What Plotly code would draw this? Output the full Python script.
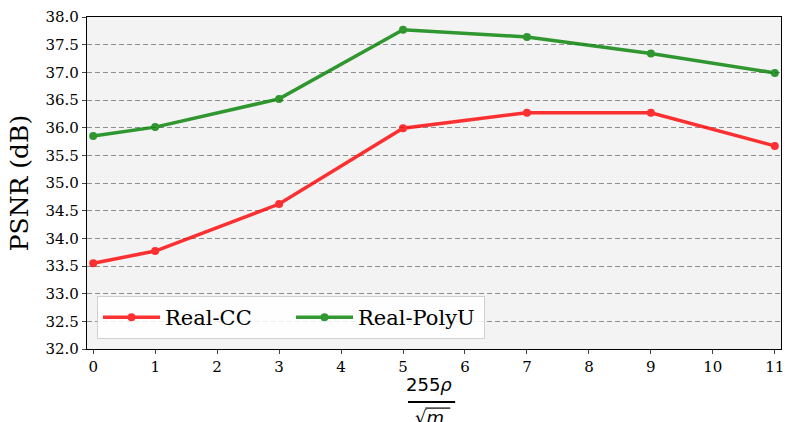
import plotly.graph_objects as go

x_vals = [0, 1, 3, 5, 7, 9, 11]
real_cc = [33.55, 33.77, 34.62, 35.99, 36.27, 36.27, 35.67]
real_polyu = [35.85, 36.01, 36.52, 37.77, 37.64, 37.34, 36.99]
x_ticks = list(range(0, 12))
y_ticks = [32.0 + 0.5 * i for i in range(13)]

fig = go.Figure()
fig.add_trace(go.Scatter(x=x_vals, y=real_cc, mode="lines+markers", name="Real-CC",
                         line=dict(color="rgb(255,0,0)", width=3.5),
                         marker=dict(size=8, color="rgb(255,0,0)"), opacity=0.8))
fig.add_trace(go.Scatter(x=x_vals, y=real_polyu, mode="lines+markers", name="Real-PolyU",
                         line=dict(color="rgb(0,128,0)", width=3.5),
                         marker=dict(size=8, color="rgb(0,128,0)"), opacity=0.8))

serif = "DejaVu Serif"
fig.update_layout(
    width=785, height=422,
    margin=dict(l=87, r=4, t=17, b=73, autoexpand=False),
    paper_bgcolor="white", plot_bgcolor="#f3f3f3",
    font=dict(family=serif, size=15, color="black"),
    showlegend=True,
    legend=dict(orientation="h", x=0.0144, y=0.03, xanchor="left", yanchor="bottom",
                bgcolor="rgba(255,255,255,0.85)", bordercolor="#d0d0d0", borderwidth=1,
                font=dict(family=serif, size=21), itemwidth=57,
                entrywidthmode="pixels", entrywidth=121),
    xaxis=dict(range=[-0.1, 11.1], tickvals=x_ticks, ticks="outside", ticklen=4,
               showgrid=False, zeroline=False, showline=True, linecolor="black", linewidth=1.2,
               mirror=True, tickfont=dict(family=serif, size=15)),
    yaxis=dict(range=[32, 38], tickvals=y_ticks, tickformat=".1f", ticks="outside", ticklen=4,
               showgrid=True, gridcolor="#8f8f8f", griddash="5px,3px", gridwidth=1,
               zeroline=False, showline=True, linecolor="black", linewidth=1.2, mirror=True,
               tickfont=dict(family=serif, size=15),
               title=dict(text="PSNR (dB)", font=dict(family=serif, size=25), standoff=9)),
)

fig.add_annotation(x=0.4935, y=-0.108, xref="paper", yref="paper", text="255<i>ρ</i>",
                   showarrow=False, font=dict(family="DejaVu Sans", size=18), yanchor="middle")
fig.add_annotation(x=0.4935, y=-0.205, xref="paper", yref="paper",
                   text="√<i>m</i>",
                   showarrow=False, font=dict(family="DejaVu Sans", size=18), yanchor="middle")
fig.add_shape(type="line", xref="paper", yref="paper", x0=0.4625, x1=0.5305, y0=-0.16, y1=-0.16,
              line=dict(color="black", width=2))
fig.add_shape(type="line", xref="paper", yref="paper", x0=0.4875, x1=0.5235, y0=-0.178, y1=-0.178,
              line=dict(color="black", width=1.2))

fig.write_html("out.html", config={"displayModeBar": False},
               post_script="document.body.style.margin='0';")
